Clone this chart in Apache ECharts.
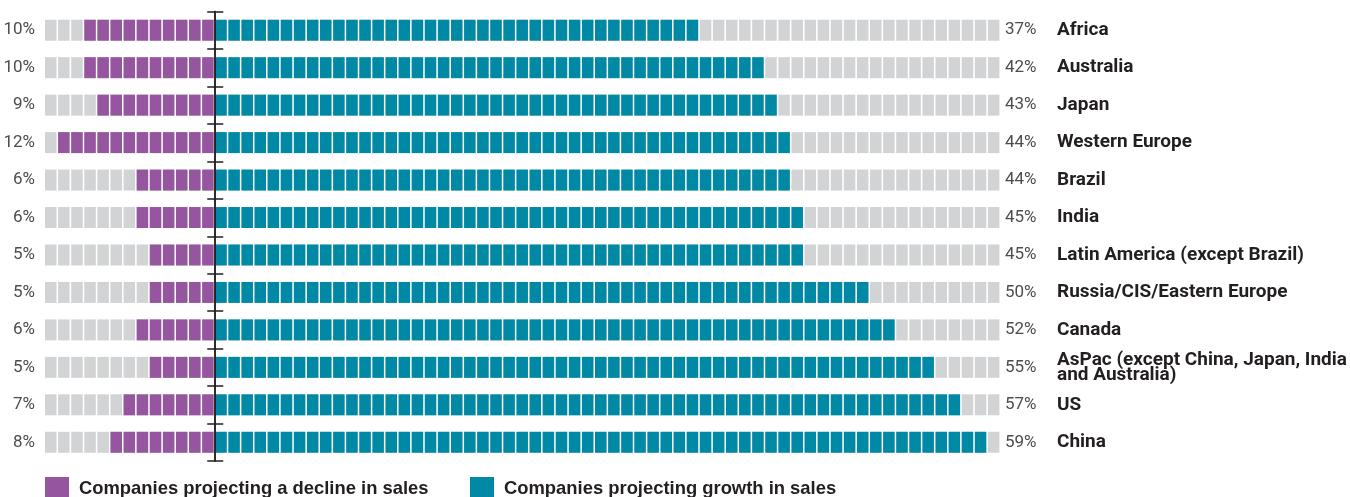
<!DOCTYPE html>
<html>
<head>
<meta charset="utf-8">
<script src="https://cdn.jsdelivr.net/npm/echarts@6/dist/echarts.min.js"></script>
<style>html,body{margin:0;padding:0;background:#fff}#chart{width:1350px;height:497px}</style>
</head>
<body>
<div id="chart"></div>
<script>
// ---- data ----
const categories = ['Africa', 'Australia', 'Japan', 'Western Europe', 'Brazil', 'India',
  'Latin America (except Brazil)', 'Russia/CIS/Eastern Europe', 'Canada',
  'AsPac (except China, Japan, India\nand Australia)', 'US', 'China'];
const decline = [10, 10, 9, 12, 6, 6, 5, 5, 6, 5, 7, 8];
const growth = [37, 42, 43, 44, 44, 45, 45, 50, 52, 55, 57, 59];
const axisMin = -13;
const axisMax = 60;
const declineName = 'Companies projecting a decline in sales';
const growthName = 'Companies projecting growth in sales';

const PURPLE = '#96559f', TEAL = '#0089a5', GREY = '#d1d3d4';
const LABEL_FONT = 'Roboto, "Liberation Sans", sans-serif';

function cellRenderer(color) {
  return function (params, api) {
    const s = api.value(0), e = api.value(1), cat = api.value(2);
    const h = api.size([0, 1])[1] * 0.56;
    const children = [];
    for (let k = s; k < e; k++) {
      const p0 = api.coord([k, cat]);
      const p1 = api.coord([k + 1, cat]);
      children.push({
        type: 'rect',
        shape: { x: p0[0], y: p0[1] - h / 2, width: p1[0] - p0[0] - 1.6, height: h },
        style: { fill: color }
      });
    }
    return { type: 'group', children };
  };
}

const greyData = categories.map((c, i) => [axisMin, axisMax, i]);
const declineData = decline.map((d, i) => [-d, 0, i]);
const growthData = growth.map((g, i) => [0, g, i]);

const chart = echarts.init(document.getElementById('chart'), null, { renderer: 'canvas' });
const hiddenCat = { type: 'category', data: categories, inverse: true, axisLabel: { show: false }, axisLine: { show: false }, axisTick: { show: false }, splitLine: { show: false } };
const legendText = { fontSize: 18.4, fontWeight: 'bold', color: '#231f20', fontFamily: '"Liberation Sans", Arial, sans-serif', padding: [0, 0, 0, 5] };

chart.setOption({
  animation: false,
  grid: { left: 45, right: 349, top: 11.5, bottom: 36, containLabel: false, outerBoundsMode: 'none' },
  legend: [
    { data: [declineName], left: 45, top: 477, padding: 0, itemWidth: 24, itemHeight: 24, icon: 'rect', textStyle: legendText },
    { data: [growthName], left: 470, top: 477, padding: 0, itemWidth: 24, itemHeight: 24, icon: 'rect', textStyle: legendText }
  ],
  xAxis: [
    { type: 'value', min: axisMin, max: axisMax, show: false },
    { type: 'value', min: axisMin, max: axisMax, show: false }
  ],
  yAxis: [
    Object.assign({}, hiddenCat, { position: 'left', z: 10,
      axisLine: { show: true, onZero: true, onZeroAxisIndex: 0, lineStyle: { color: '#231f20', width: 1.5 } },
      axisTick: { show: true, length: 8, lineStyle: { color: '#231f20', width: 1.5 } } }),
    Object.assign({}, hiddenCat, { position: 'left', z: 10,
      axisLine: { show: true, onZero: true, onZeroAxisIndex: 1, lineStyle: { color: '#231f20', width: 1.5 } },
      axisTick: { show: true, inside: true, length: 8, lineStyle: { color: '#231f20', width: 1.5 } } }),
    Object.assign({}, hiddenCat, { position: 'left',
      axisLine: { show: false, onZero: false },
      axisLabel: { show: true, margin: 10, fontSize: 17, color: '#4d4d4d', fontFamily: LABEL_FONT,
        formatter: (v, i) => decline[i] + '%' } }),
    Object.assign({}, hiddenCat, { position: 'right',
      axisLine: { show: false, onZero: false },
      axisLabel: { show: true, margin: 4, fontSize: 17, color: '#4d4d4d', fontFamily: LABEL_FONT,
        formatter: (v, i) => growth[i] + '%' } }),
    Object.assign({}, hiddenCat, { position: 'right',
      axisLine: { show: false, onZero: false },
      axisLabel: { show: true, margin: 56, fontSize: 19, fontWeight: 'bold', lineHeight: 15, color: '#231f20', fontFamily: LABEL_FONT } })
  ],
  series: [
    { type: 'custom', name: 'bg', silent: true, renderItem: cellRenderer(GREY), data: greyData,
      encode: { x: [0, 1], y: 2 }, itemStyle: { color: GREY } },
    { type: 'custom', name: declineName, silent: true, renderItem: cellRenderer(PURPLE), data: declineData,
      encode: { x: [0, 1], y: 2 }, itemStyle: { color: PURPLE } },
    { type: 'custom', name: growthName, silent: true, renderItem: cellRenderer(TEAL), data: growthData,
      encode: { x: [0, 1], y: 2 }, itemStyle: { color: TEAL } }
  ]
});
</script>
</body>
</html>
